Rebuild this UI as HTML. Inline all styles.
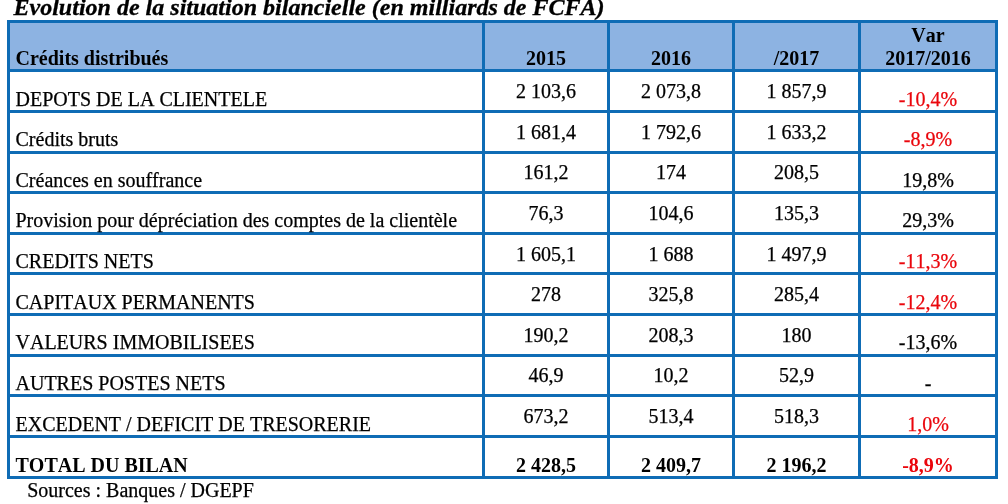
<!DOCTYPE html>
<html lang="fr"><head><meta charset="utf-8"><title>Evolution de la situation bilancielle</title>
<style>
html,body{margin:0;padding:0;background:#fff}
#p{position:relative;width:1008px;height:504px;overflow:hidden;background:#fff;font-family:"Liberation Serif",serif;font-size:20px;color:#000}
.r{position:absolute}
.t{position:absolute;line-height:0;white-space:nowrap;font-kerning:none;-webkit-text-stroke:0.25px}
.b{font-weight:bold;-webkit-text-stroke:0}
.bi{font-weight:bold;font-style:italic;-webkit-text-stroke:0.3px}
.red{color:#ea060c}
</style></head><body><div id="p">
<div class="r" style="left:7px;top:20.25px;width:991px;height:48.75px;background:#8db3e2"></div>
<div class="r" style="left:7px;top:20.25px;width:991px;height:3px;background:#0f6cb5"></div>
<div class="r" style="left:7px;top:69px;width:991px;height:3px;background:#0f6cb5"></div>
<div class="r" style="left:7px;top:110px;width:991px;height:3px;background:#0f6cb5"></div>
<div class="r" style="left:7px;top:151px;width:991px;height:3px;background:#0f6cb5"></div>
<div class="r" style="left:7px;top:191px;width:991px;height:3px;background:#0f6cb5"></div>
<div class="r" style="left:7px;top:232px;width:991px;height:3px;background:#0f6cb5"></div>
<div class="r" style="left:7px;top:272px;width:991px;height:3px;background:#0f6cb5"></div>
<div class="r" style="left:7px;top:313px;width:991px;height:3px;background:#0f6cb5"></div>
<div class="r" style="left:7px;top:354px;width:991px;height:3px;background:#0f6cb5"></div>
<div class="r" style="left:7px;top:394px;width:991px;height:3px;background:#0f6cb5"></div>
<div class="r" style="left:7px;top:435px;width:991px;height:3px;background:#0f6cb5"></div>
<div class="r" style="left:7px;top:476px;width:991px;height:3px;background:#0f6cb5"></div>
<div class="r" style="left:7px;top:20.25px;width:3px;height:458.75px;background:#0f6cb5"></div>
<div class="r" style="left:482px;top:20.25px;width:3px;height:458.75px;background:#0f6cb5"></div>
<div class="r" style="left:607px;top:20.25px;width:3px;height:458.75px;background:#0f6cb5"></div>
<div class="r" style="left:732px;top:20.25px;width:3px;height:458.75px;background:#0f6cb5"></div>
<div class="r" style="left:858px;top:20.25px;width:3px;height:458.75px;background:#0f6cb5"></div>
<div class="r" style="left:995px;top:20.25px;width:3px;height:458.75px;background:#0f6cb5"></div>
<div class="t bi" style="left:13.5px;top:6.69px;font-size:24.03px;">Evolution de la situation bilancielle (en milliards de FCFA)</div>
<div class="t b" style="left:15.5px;top:58.25px;">Crédits distribués</div>
<div class="t b" style="left:485px;top:58.25px;width:122px;text-align:center;">2015</div>
<div class="t b" style="left:610px;top:58.25px;width:122px;text-align:center;">2016</div>
<div class="t b" style="left:735px;top:58.25px;width:123px;text-align:center;">/2017</div>
<div class="t b" style="left:861px;top:34.75px;width:134px;text-align:center;">Var</div>
<div class="t b" style="left:861px;top:57.95px;width:134px;text-align:center;">2017/2016</div>
<div class="t " style="left:15.5px;top:99.00px;">DEPOTS DE LA CLIENTELE</div>
<div class="t " style="left:485px;top:90.85px;width:122px;text-align:center;">2 103,6</div>
<div class="t " style="left:610px;top:90.85px;width:122px;text-align:center;">2 073,8</div>
<div class="t " style="left:735px;top:90.85px;width:123px;text-align:center;">1 857,9</div>
<div class="t red" style="left:861px;top:99.00px;width:134px;text-align:center;">-10,4%</div>
<div class="t " style="left:15.5px;top:139.00px;">Crédits bruts</div>
<div class="t " style="left:485px;top:132.00px;width:122px;text-align:center;">1 681,4</div>
<div class="t " style="left:610px;top:132.00px;width:122px;text-align:center;">1 792,6</div>
<div class="t " style="left:735px;top:132.00px;width:123px;text-align:center;">1 633,2</div>
<div class="t red" style="left:861px;top:139.00px;width:134px;text-align:center;">-8,9%</div>
<div class="t " style="left:15.5px;top:179.85px;">Créances en souffrance</div>
<div class="t " style="left:485px;top:172.00px;width:122px;text-align:center;">161,2</div>
<div class="t " style="left:610px;top:172.00px;width:122px;text-align:center;">174</div>
<div class="t " style="left:735px;top:172.00px;width:123px;text-align:center;">208,5</div>
<div class="t " style="left:861px;top:179.85px;width:134px;text-align:center;">19,8%</div>
<div class="t " style="left:15.5px;top:220.00px;">Provision pour dépréciation des comptes de la clientèle</div>
<div class="t " style="left:485px;top:213.35px;width:122px;text-align:center;">76,3</div>
<div class="t " style="left:610px;top:213.35px;width:122px;text-align:center;">104,6</div>
<div class="t " style="left:735px;top:213.35px;width:123px;text-align:center;">135,3</div>
<div class="t " style="left:861px;top:220.00px;width:134px;text-align:center;">29,3%</div>
<div class="t " style="left:15.5px;top:260.75px;">CREDITS NETS</div>
<div class="t " style="left:485px;top:253.85px;width:122px;text-align:center;">1 605,1</div>
<div class="t " style="left:610px;top:253.85px;width:122px;text-align:center;">1 688</div>
<div class="t " style="left:735px;top:253.85px;width:123px;text-align:center;">1 497,9</div>
<div class="t red" style="left:861px;top:260.75px;width:134px;text-align:center;">-11,3%</div>
<div class="t " style="left:15.5px;top:301.75px;">CAPITAUX PERMANENTS</div>
<div class="t " style="left:485px;top:293.95px;width:122px;text-align:center;">278</div>
<div class="t " style="left:610px;top:293.95px;width:122px;text-align:center;">325,8</div>
<div class="t " style="left:735px;top:293.95px;width:123px;text-align:center;">285,4</div>
<div class="t red" style="left:861px;top:301.75px;width:134px;text-align:center;">-12,4%</div>
<div class="t " style="left:15.5px;top:341.75px;">VALEURS IMMOBILISEES</div>
<div class="t " style="left:485px;top:334.75px;width:122px;text-align:center;">190,2</div>
<div class="t " style="left:610px;top:334.75px;width:122px;text-align:center;">208,3</div>
<div class="t " style="left:735px;top:334.75px;width:123px;text-align:center;">180</div>
<div class="t " style="left:861px;top:341.75px;width:134px;text-align:center;">-13,6%</div>
<div class="t " style="left:15.5px;top:382.85px;">AUTRES POSTES NETS</div>
<div class="t " style="left:485px;top:375.15px;width:122px;text-align:center;">46,9</div>
<div class="t " style="left:610px;top:375.15px;width:122px;text-align:center;">10,2</div>
<div class="t " style="left:735px;top:375.15px;width:123px;text-align:center;">52,9</div>
<div class="t " style="left:861px;top:382.85px;width:134px;text-align:center;">-</div>
<div class="t " style="left:15.5px;top:423.65px;">EXCEDENT / DEFICIT DE TRESORERIE</div>
<div class="t " style="left:485px;top:415.75px;width:122px;text-align:center;">673,2</div>
<div class="t " style="left:610px;top:415.75px;width:122px;text-align:center;">513,4</div>
<div class="t " style="left:735px;top:415.75px;width:123px;text-align:center;">518,3</div>
<div class="t red" style="left:861px;top:423.65px;width:134px;text-align:center;">1,0%</div>
<div class="t b" style="left:15.5px;top:464.75px;">TOTAL DU BILAN</div>
<div class="t b" style="left:485px;top:464.75px;width:122px;text-align:center;">2 428,5</div>
<div class="t b" style="left:610px;top:464.75px;width:122px;text-align:center;">2 409,7</div>
<div class="t b" style="left:735px;top:464.75px;width:123px;text-align:center;">2 196,2</div>
<div class="t b red" style="left:861px;top:464.75px;width:134px;text-align:center;">-8,9%</div>
<div class="t " style="left:27.2px;top:490.45px;">Sources : Banques / DGEPF</div>
</div></body></html>
